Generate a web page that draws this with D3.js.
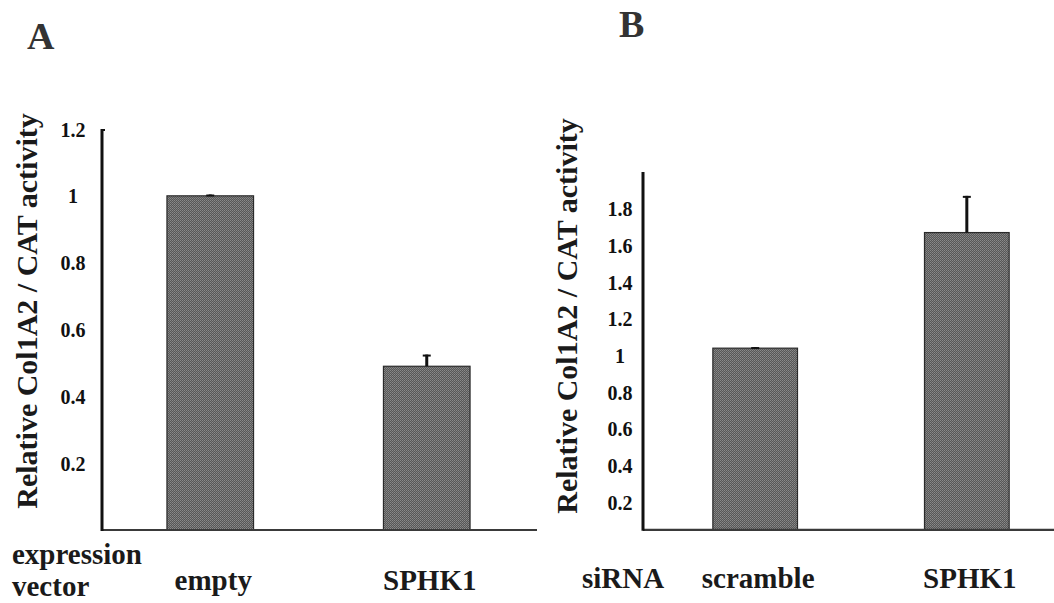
<!DOCTYPE html>
<html>
<head>
<meta charset="utf-8">
<script src="https://cdn.jsdelivr.net/npm/d3@7"></script>
</head>
<body style="margin:0">
<svg id="chart" width="1054" height="603"></svg>
<script>
// ---- data ----
const panelLetters = ["A", "B"];
const categoriesA = ["empty", "SPHK1"];
const valuesA = [1.0, 0.49];
const errorsA = [0.004, 0.035];
const ticksA = [0.2, 0.4, 0.6, 0.8, 1, 1.2];
const domainA = [0, 1.2];
const crossA = 0;

const categoriesB = ["scramble", "SPHK1"];
const valuesB = [1.04, 1.67];
const errorsB = [0.006, 0.2];
const ticksB = [0.2, 0.4, 0.6, 0.8, 1, 1.2, 1.4, 1.6, 1.8];
const domainB = [0, 2];
const crossB = 0.05;

const yTitle = "Relative Col1A2 / CAT activity";
const groupLabelA = ["expression", "vector"];
const groupLabelB = ["siRNA"];

const FONT = "Liberation Serif";

// ---- drawing ----
const svg = d3.select("#chart");
const defs = svg.append("defs");
const pat = defs.append("pattern").attr("id", "dither")
  .attr("patternUnits", "userSpaceOnUse").attr("width", 2).attr("height", 2);
pat.append("rect").attr("width", 2).attr("height", 2).attr("fill", "#575757");
pat.append("rect").attr("x", 0).attr("y", 0).attr("width", 1).attr("height", 1).attr("fill", "#8a8a8a");
pat.append("rect").attr("x", 1).attr("y", 1).attr("width", 1).attr("height", 1).attr("fill", "#7c7c7c");

function styleText(sel, size, weight) {
  const w = weight || "bold";
  return sel.attr("font-family", FONT)
    .attr("font-size", size)
    .attr("font-weight", w)
    .style("font-family", "'Liberation Serif', 'Times New Roman', serif", "important")
    .style("font-size", size + "px", "important")
    .style("font-weight", w, "important")
    .style("font-style", "normal", "important");
}

function drawPanel(cfg) {
  const g = svg.append("g");
  const x = d3.scaleBand().domain(cfg.cats).range(cfg.xRange)
    .paddingInner(0.6).paddingOuter(cfg.outer);
  const y = d3.scaleLinear().domain(cfg.domain).range(cfg.yRange);
  const x0 = cfg.xRange[0];
  const yBase = y(cfg.cross);

  // bars
  g.selectAll("rect.bar").data(cfg.cats).join("rect").attr("class", "bar")
    .attr("x", d => x(d))
    .attr("y", (d, i) => y(cfg.vals[i]))
    .attr("width", x.bandwidth())
    .attr("height", (d, i) => yBase - y(cfg.vals[i]))
    .attr("fill", "url(#dither)")
    .attr("stroke", "#2a2a2a").attr("stroke-width", 1.2);

  // error bars
  cfg.cats.forEach((c, i) => {
    const cx = x(c) + x.bandwidth() / 2;
    const yt = y(cfg.vals[i] + cfg.errs[i]);
    g.append("line").attr("x1", cx).attr("x2", cx)
      .attr("y1", y(cfg.vals[i])).attr("y2", yt)
      .attr("stroke", "#111").attr("stroke-width", 3);
    g.append("line").attr("x1", cx - 4).attr("x2", cx + 4)
      .attr("y1", yt + 1).attr("y2", yt + 1)
      .attr("stroke", "#111").attr("stroke-width", 2);
  });

  // baseline
  g.append("line").attr("x1", x0).attr("x2", cfg.baseEnd)
    .attr("y1", yBase).attr("y2", yBase)
    .attr("stroke", "#3a3a3a").attr("stroke-width", 2.2);
  // y axis line
  g.append("line").attr("x1", x0).attr("x2", x0)
    .attr("y1", y(cfg.domain[1])).attr("y2", yBase + 1)
    .attr("stroke", "#111").attr("stroke-width", 3);
  if (cfg.topHook) {
    g.append("line").attr("x1", x0).attr("x2", x0 + 3)
      .attr("y1", y(cfg.domain[1]) + 1).attr("y2", y(cfg.domain[1]) + 1)
      .attr("stroke", "#111").attr("stroke-width", 2);
  }

  // tick labels
  const ax = g.append("g").attr("transform", `translate(${x0},0)`)
    .call(d3.axisLeft(y).tickValues(cfg.ticks).tickSize(0).tickFormat(d3.format("~g")));
  ax.attr("font-family", FONT).attr("font-size", 20).attr("font-weight", "bold");
  ax.select(".domain").remove();
  styleText(ax.selectAll("text"), 20)
    .attr("fill", "#111")
    .attr("text-anchor", "middle")
    .attr("x", cfg.tickDx)
    .attr("dy", "0.35em");

  // category labels
  cfg.cats.forEach(c => {
    styleText(svg.append("text"), 29)
      .attr("fill", "#1a1a1a")
      .attr("x", x(c) + x.bandwidth() / 2 + 3)
      .attr("y", cfg.catY)
      .attr("text-anchor", "middle")
      .text(c);
  });

  // group label
  cfg.group.forEach((t, i) => {
    styleText(svg.append("text"), 29).attr("fill", "#1a1a1a")
      .attr("x", cfg.groupX).attr("y", cfg.groupY[i]).text(t);
  });

  // y title
  styleText(svg.append("text"), 30)
    .attr("fill", "#1a1a1a")
    .attr("transform", `translate(${cfg.titleX},${cfg.titleY}) rotate(-90)`)
    .attr("text-anchor", "middle")
    .text(yTitle);

  // panel letter
  styleText(svg.append("text"), 38, "bold")
    .attr("x", cfg.letterX).attr("y", cfg.letterY)
    .attr("fill", "#333")
    .text(cfg.letter);
}

drawPanel({
  letter: panelLetters[0], letterX: 27, letterY: 49,
  cats: categoriesA, vals: valuesA, errs: errorsA, ticks: ticksA,
  domain: domainA, cross: crossA,
  xRange: [102, 535], outer: 0.3, yRange: [530, 129], baseEnd: 537,
  tickDx: -29, topHook: true,
  catY: 590, group: groupLabelA, groupX: 12, groupY: [564, 596],
  titleX: 37, titleY: 311
});

drawPanel({
  letter: panelLetters[1], letterX: 619, letterY: 37,
  cats: categoriesB, vals: valuesB, errs: errorsB, ticks: ticksB,
  domain: domainB, cross: crossB,
  xRange: [643, 1079], outer: 0.33, yRange: [539, 172], baseEnd: 1054,
  tickDx: -23, topHook: false,
  catY: 588, group: groupLabelB, groupX: 582, groupY: [588],
  titleX: 577, titleY: 316
});
</script>
</body>
</html>
